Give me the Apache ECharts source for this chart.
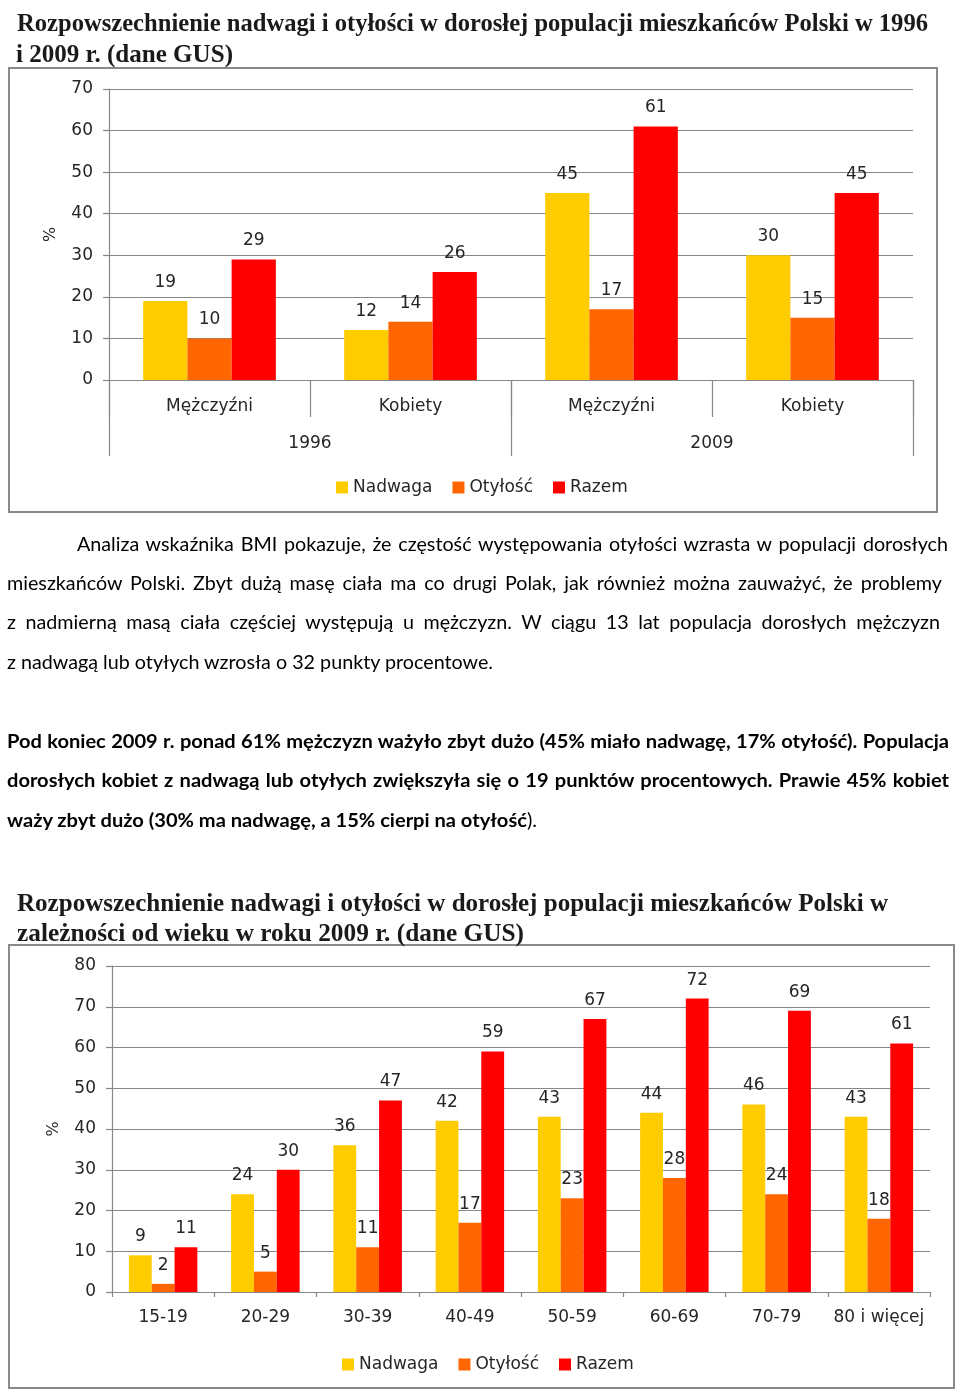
<!DOCTYPE html>
<html>
<head>
<meta charset="utf-8">
<script src="https://cdn.jsdelivr.net/npm/echarts@6/dist/echarts.min.js"></script>
<style>
  html, body { margin: 0; padding: 0; background: #fff; }
  #page { position: relative; width: 960px; height: 1393px; overflow: hidden; background: #fff; }
  #chart { position: absolute; left: 0; top: 0; width: 960px; height: 1393px; }
  .title { position: absolute; white-space: nowrap; font-family: "Liberation Serif", "DejaVu Serif", serif;
           font-weight: bold; font-size: 26px; line-height: 26px; color: #1a1a1a; transform-origin: 0 0; z-index: 2; }
  .pline { position: absolute; white-space: nowrap; font-family: Lato, "Open Sans", sans-serif;
           font-size: 19px; line-height: 24px; color: #000; transform-origin: 0 0; z-index: 2; }
  .b { font-weight: bold; }
</style>
</head>
<body>
<div id="page">
  <div id="chart"></div>
</div>
<script>
// ---------------- DATA ----------------
const seriesNames = ['Nadwaga', 'Otyłość', 'Razem'];

// Chart 1: 1996 vs 2009, by sex
const sexCategories = ['Mężczyźni', 'Kobiety', 'Mężczyźni', 'Kobiety'];
const yearGroups = ['1996', '2009'];
const nadwaga1 = [19, 12, 45, 30];
const otylosc1 = [10, 14, 17, 15];
const razem1 = [29, 26, 61, 45];

// Chart 2: 2009, by age
const ageGroups = ['15-19', '20-29', '30-39', '40-49', '50-59', '60-69', '70-79', '80 i więcej'];
const nadwaga2 = [9, 24, 36, 42, 43, 44, 46, 43];
const otylosc2 = [2, 5, 11, 17, 23, 28, 24, 18];
const razem2 = [11, 30, 47, 59, 67, 72, 69, 61];

// Text
const titles = [
  { text: 'Rozpowszechnienie nadwagi i otyłości w dorosłej populacji mieszkańców Polski w 1996', left: 17, base: 32, right: 928 },
  { text: 'i 2009 r. (dane GUS)', left: 16, base: 63, right: 233 },
  { text: 'Rozpowszechnienie nadwagi i otyłości w dorosłej populacji mieszkańców Polski w', left: 17, base: 912, right: 888 },
  { text: 'zależności od wieku w roku 2009 r. (dane GUS)', left: 17, base: 942, right: 524 }
];
const paragraphs = [
  { bold: false, lines: [
    { html: 'Analiza wskaźnika BMI pokazuje, że częstość występowania otyłości wzrasta w populacji dorosłych', left: 77, right: 948, cy: 545, justify: true },
    { html: 'mieszkańców Polski. Zbyt dużą masę ciała ma co drugi Polak, jak również można zauważyć, że problemy', left: 7, right: 942, cy: 584, justify: true },
    { html: 'z nadmierną masą ciała częściej występują u mężczyzn. W ciągu 13 lat populacja dorosłych mężczyzn', left: 7, right: 940, cy: 623, justify: true },
    { html: 'z nadwagą lub otyłych wzrosła o 32 punkty procentowe.', left: 7, right: 493, cy: 663, justify: false }
  ]},
  { bold: true, lines: [
    { html: 'Pod koniec 2009 r. ponad 61% mężczyzn ważyło zbyt dużo (45% miało nadwagę, 17% otyłość). Populacja', left: 7, right: 949, cy: 742, justify: true },
    { html: 'dorosłych kobiet z nadwagą lub otyłych zwiększyła się o 19 punktów procentowych. Prawie 45% kobiet', left: 7, right: 949, cy: 781, justify: true },
    { html: 'waży zbyt dużo (30% ma nadwagę, a 15% cierpi na otyłość<span style="font-weight:normal">).</span>', left: 7, right: 537, cy: 821, justify: false }
  ]}
];

// ---------------- TEXT LAYOUT ----------------
const page = document.getElementById('page');
titles.forEach(t => {
  const el = document.createElement('div');
  el.className = 'title';
  el.textContent = t.text;
  el.style.left = t.left + 'px';
  el.style.top = (t.base - 21.8) + 'px';
  page.appendChild(el);
  const w = el.getBoundingClientRect().width;
  el.style.transform = 'scaleX(' + ((t.right - t.left) / w) + ')';
});
paragraphs.forEach(p => {
  const els = p.lines.map(l => {
    const el = document.createElement('div');
    el.className = 'pline' + (p.bold ? ' b' : '');
    el.innerHTML = l.html;
    el.style.left = l.left + 'px';
    el.style.top = (l.cy - 13) + 'px';
    page.appendChild(el);
    return el;
  });
  const lastIdx = p.lines.length - 1;
  const last = p.lines[lastIdx];
  const lw = els[lastIdx].getBoundingClientRect().width;
  const k = (last.right - last.left) / lw;
  p.lines.forEach((l, i) => {
    const el = els[i];
    if (l.justify) {
      const w = el.getBoundingClientRect().width;
      const n = (el.textContent.match(/ /g) || []).length;
      const ws = ((l.right - l.left) / k - w) / n;
      el.style.wordSpacing = ws + 'px';
    }
    el.style.transform = 'scaleX(' + k + ')';
  });
});

// ---------------- CHART ----------------
const colors = ['#FFCC00', '#FF6600', '#FF0000'];
const axisGray = '#878787';
const txt = '#262626';
const font = 'DejaVu Sans';
const fs = 17;

const chart = echarts.init(document.getElementById('chart'), null, { renderer: 'canvas' });

function yAxisCfg(gridIndex, max) {
  return {
    type: 'value', gridIndex: gridIndex, min: 0, max: max, interval: 10,
    name: '%', nameLocation: 'middle', nameRotate: 90, nameGap: 50,
    nameTextStyle: { fontSize: 16, color: txt, fontFamily: font },
    axisLine: { show: true, lineStyle: { color: axisGray, width: 1.2 } },
    axisTick: { show: true, length: 6, lineStyle: { color: axisGray, width: 1.2 } },
    splitLine: { show: true, lineStyle: { color: axisGray, width: 1.2 } },
    axisLabel: { fontSize: fs, color: txt, fontFamily: font, margin: 16 }
  };
}
function barSeries(name, data, colorIdx, xi, yi, gap) {
  return {
    type: 'bar', name: name, data: data, xAxisIndex: xi, yAxisIndex: yi,
    barGap: '0%', barCategoryGap: gap,
    itemStyle: { color: colors[colorIdx] },
    label: { show: true, position: 'top', distance: 10, fontSize: fs, color: txt, fontFamily: font },
    emphasis: { disabled: true },
    animation: false
  };
}

const option = {
  backgroundColor: '#fff',
  animation: false,
  color: colors,
  grid: [
    { left: 109, top: 89, width: 804, height: 291, containLabel: false },
    { left: 112, top: 966, width: 818, height: 326, containLabel: false }
  ],
  xAxis: [
    {
      type: 'category', gridIndex: 0, data: sexCategories, position: 'bottom',
      axisLine: { show: true, lineStyle: { color: axisGray, width: 1.2 } },
      axisTick: { show: true, interval: 0, length: 37, lineStyle: { color: axisGray, width: 1.2 } },
      axisLabel: { interval: 0, fontSize: fs, color: txt, fontFamily: font, margin: 18 }
    },
    {
      type: 'category', gridIndex: 0, data: yearGroups, position: 'bottom',
      axisLine: { show: false },
      axisTick: { show: true, interval: 0, length: 76, lineStyle: { color: axisGray, width: 1.2 } },
      axisLabel: { interval: 0, fontSize: fs, color: txt, fontFamily: font, margin: 55 }
    },
    {
      type: 'category', gridIndex: 1, data: ageGroups, position: 'bottom',
      axisLine: { show: true, lineStyle: { color: axisGray, width: 1.2 } },
      axisTick: { show: true, interval: 0, length: 5, lineStyle: { color: axisGray, width: 1.2 } },
      axisLabel: { interval: 0, fontSize: fs, color: txt, fontFamily: font, margin: 17 }
    }
  ],
  yAxis: [ yAxisCfg(0, 70), yAxisCfg(1, 80) ],
  legend: [
    {
      data: seriesNames, left: 331, top: 474, icon: 'rect', itemWidth: 12, itemHeight: 12, itemGap: 20,
      textStyle: { fontSize: fs, color: txt, fontFamily: font }, selectedMode: false
    },
    {
      data: seriesNames, left: 337, top: 1351, icon: 'rect', itemWidth: 12, itemHeight: 12, itemGap: 20,
      textStyle: { fontSize: fs, color: txt, fontFamily: font }, selectedMode: false
    }
  ],
  graphic: [
    { type: 'rect', shape: { x: 9, y: 68, width: 928, height: 444 }, style: { fill: null, stroke: '#8a8a8a', lineWidth: 2 }, silent: true },
    { type: 'rect', shape: { x: 9, y: 945, width: 945, height: 443 }, style: { fill: null, stroke: '#8a8a8a', lineWidth: 2 }, silent: true }
  ],
  series: [
    barSeries(seriesNames[0], nadwaga1, 0, 0, 0, '34%'),
    barSeries(seriesNames[1], otylosc1, 1, 0, 0, '34%'),
    barSeries(seriesNames[2], razem1, 2, 0, 0, '34%'),
    barSeries(seriesNames[0], nadwaga2, 0, 2, 1, '33%'),
    barSeries(seriesNames[1], otylosc2, 1, 2, 1, '33%'),
    barSeries(seriesNames[2], razem2, 2, 2, 1, '33%')
  ]
};
chart.setOption(option);
</script>
</body>
</html>
